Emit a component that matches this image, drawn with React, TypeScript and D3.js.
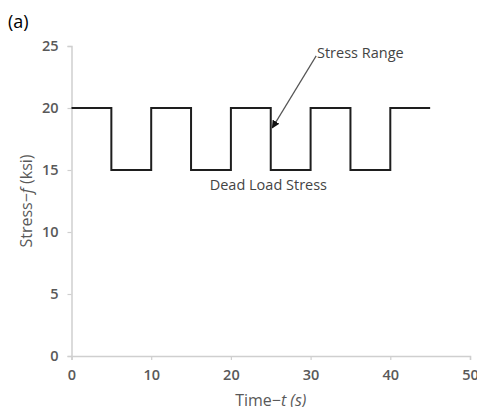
import React, { useRef, useEffect } from 'react'
import * as d3 from 'd3'

// square wave: stress level at each time breakpoint
const times = [0, 5, 5, 10, 10, 15, 15, 20, 20, 25, 25, 30, 30, 35, 35, 40, 40, 45]
const stress = [20, 20, 15, 15, 20, 20, 15, 15, 20, 20, 15, 15, 20, 20, 15, 15, 20, 20]
const xTicks = [0, 10, 20, 30, 40, 50]
const yTicks = [0, 5, 10, 15, 20, 25]

const App = () => {
  const svgRef = useRef<SVGSVGElement>(null)

  useEffect(() => {
    const width = 477
    const height = 407
    const margin = { top: 46, right: 7, bottom: 51, left: 71.5 }
    const svg = d3.select(svgRef.current)
    svg.selectAll('*').remove()

    const x = d3.scaleLinear().domain([0, 50]).range([margin.left, width - margin.right])
    const y = d3.scaleLinear().domain([0, 25]).range([height - margin.bottom, margin.top])
    const font = '"Open Sans", "Liberation Sans", sans-serif'
    const axisColor = '#cfcfcf'
    const labelColor = '#595959'

    // x axis
    const gx = svg.append('g').attr('transform', `translate(0,${y(0)})`)
      .call(d3.axisBottom(x).tickValues(xTicks).tickSize(4).tickPadding(10))
    gx.select('.domain').attr('stroke', axisColor).attr('stroke-width', 1.5)
    gx.selectAll('.tick line').attr('stroke', axisColor).attr('stroke-width', 1.2)
    gx.selectAll('.tick text').attr('fill', labelColor).attr('font-size', 14.5)
      .attr('font-family', font).attr('font-weight', 600)

    // y axis
    const gy = svg.append('g').attr('transform', `translate(${x(0)},0)`)
      .call(d3.axisLeft(y).tickValues(yTicks).tickSize(4).tickPadding(9))
    gy.select('.domain').attr('stroke', axisColor).attr('stroke-width', 1.5)
    gy.selectAll('.tick line').attr('stroke', axisColor).attr('stroke-width', 1.2)
    gy.selectAll('.tick text').attr('fill', labelColor).attr('font-size', 14.5)
      .attr('font-family', font).attr('font-weight', 600)

    // square wave
    const pts = times.map((t, i) => [t, stress[i]] as [number, number])
    const line = d3.line<[number, number]>().x(d => x(d[0])).y(d => y(d[1]))
    svg.append('path').datum(pts)
      .attr('d', line)
      .attr('fill', 'none')
      .attr('stroke', '#1e1e1e')
      .attr('stroke-width', 2)
      .attr('stroke-linejoin', 'miter')

    // arrow for stress range
    svg.append('defs').append('marker')
      .attr('id', 'arrowhead')
      .attr('viewBox', '0 0 10 10')
      .attr('refX', 9).attr('refY', 5)
      .attr('markerWidth', 8).attr('markerHeight', 8)
      .attr('markerUnits', 'userSpaceOnUse')
      .attr('orient', 'auto')
      .append('path').attr('d', 'M0,0 L10,5 L0,10 z').attr('fill', '#111')

    svg.append('line')
      .attr('x1', x(30.7)).attr('y1', y(24.2))
      .attr('x2', x(25.2)).attr('y2', y(18.4))
      .attr('stroke', '#555')
      .attr('stroke-width', 1.2)
      .attr('marker-end', 'url(#arrowhead)')

    svg.append('text')
      .attr('x', x(30.8)).attr('y', y(24.0))
      .attr('font-family', font).attr('font-size', 14.5)
      .attr('fill', '#444')
      .text('Stress Range')

    svg.append('text')
      .attr('x', x(24.7)).attr('y', y(13.7) + 4)
      .attr('text-anchor', 'middle')
      .attr('font-family', font).attr('font-size', 14.5)
      .attr('fill', '#444')
      .text('Dead Load Stress')

    // axis titles
    const xt = svg.append('text')
      .attr('x', (x(0) + x(50)) / 2).attr('y', height - 1)
      .attr('text-anchor', 'middle')
      .attr('font-family', font).attr('font-size', 16)
      .attr('fill', labelColor)
    xt.append('tspan').text('Time\u2212')
    xt.append('tspan').attr('font-style', 'italic').text('t (s)')

    const yt = svg.append('text')
      .attr('transform', `translate(32,${(y(0) + y(25)) / 2}) rotate(-90)`)
      .attr('text-anchor', 'middle')
      .attr('font-family', font).attr('font-size', 16)
      .attr('fill', labelColor)
    yt.append('tspan').text('Stress\u2212')
    yt.append('tspan').attr('font-style', 'italic').text('f')
    yt.append('tspan').text(' (ksi)')

    svg.append('text')
      .attr('x', 8).attr('y', 28)
      .attr('font-family', font).attr('font-size', 18)
      .attr('fill', '#000')
      .text('(a)')
  }, [])

  return (
    <svg ref={svgRef} width={477} height={407}
      style={{ position: 'absolute', left: 0, top: 0, background: '#fff' }} />
  )
}

export default App
